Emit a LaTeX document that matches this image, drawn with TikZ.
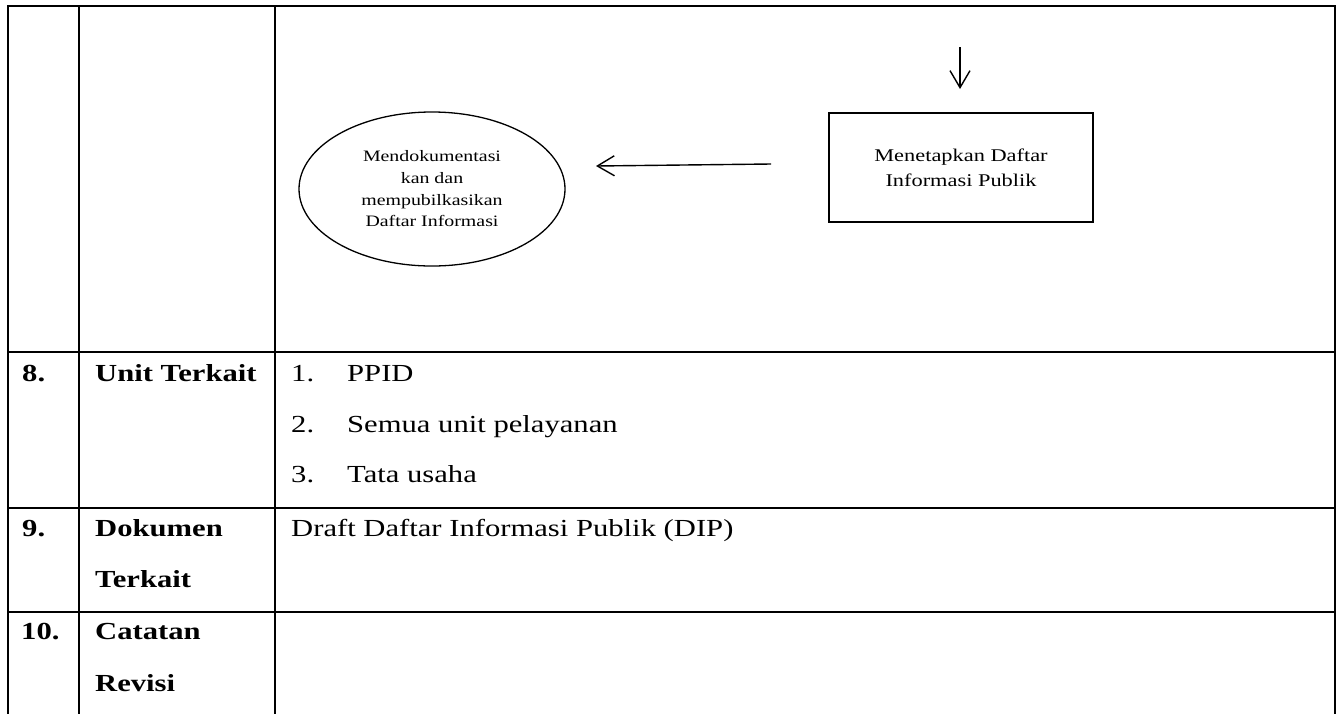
\documentclass[tikz,border=0pt]{standalone}
\usepackage{fontspec}
\setmainfont{Liberation Serif}[FakeStretch=1.25]
\usetikzlibrary{arrows.meta,shapes.geometric}
\begin{document}
\begin{tikzpicture}[x=1pt,y=-1pt,
  cell/.style={anchor=base west, inner sep=0pt, font=\fontsize{24.5}{29}\selectfont},
  bcell/.style={anchor=base west, inner sep=0pt, font=\fontsize{24.5}{29}\selectfont\bfseries},
  gridline/.style={line width=1.3pt, line cap=rect},
  flowarrow/.style={line width=1.4pt, -{Straight Barb[length=17pt,width=20pt,line width=1.4pt]}},
  process/.style={draw, line width=1.3pt, rectangle, minimum width=264pt, minimum height=109pt, inner sep=0pt, align=center, font=\fontsize{17.9}{25}\selectfont},
  terminal/.style={draw, line width=1.3pt, ellipse, minimum width=266pt, minimum height=154pt, inner sep=0pt, align=center, font=\fontsize{15.9}{21.7}\selectfont}
]
\useasboundingbox (0,0) rectangle (1340,713);
% table grid
\draw[gridline] (8,713) -- (8,6) -- (1335,6) -- (1335,713);
\draw[gridline] (79,6) -- (79,713);
\draw[gridline] (275,6) -- (275,713);
\draw[gridline] (8,352) -- (1335,352);
\draw[gridline] (8,508) -- (1335,508);
\draw[gridline] (8,612) -- (1335,612);
% flow
\node[terminal] (doc) at (432,189) {Mendokumentasi\\kan dan\\mempubilkasikan\\Daftar Informasi};
\node[process] (dip) at (961,167.5) {Menetapkan Daftar\\Informasi Publik};
\coordinate (inS) at (960,47);
\coordinate (inE) at (960,89);
\coordinate (hS) at (771,164);
\coordinate (hE) at (596,166);
\draw[flowarrow] (inS) -- (inE);
\draw[flowarrow] (hS) -- (hE);
% row 8
\node[bcell] (n8) at (22,381) {8.};
\node[bcell] (l8) at (95,381) {Unit Terkait};
\node[cell] (i1) at (291,381) {1.};
\node[cell] (t1) at (347,381) {PPID};
\node[cell] (i2) at (291,432) {2.};
\node[cell] (t2) at (347,432) {Semua unit pelayanan};
\node[cell] (i3) at (291,482) {3.};
\node[cell] (t3) at (347,482) {Tata usaha};
% row 9
\node[bcell] (n9) at (22,536) {9.};
\node[bcell] (l9a) at (95,536) {Dokumen};
\node[bcell] (l9b) at (95,587) {Terkait};
\node[cell] (d9) at (291,536) {Draft Daftar Informasi Publik (DIP)};
% row 10
\node[bcell] (n10) at (21,639) {10.};
\node[bcell] (l10a) at (95,639) {Catatan};
\node[bcell] (l10b) at (95,691) {Revisi};
\end{tikzpicture}
\end{document}
